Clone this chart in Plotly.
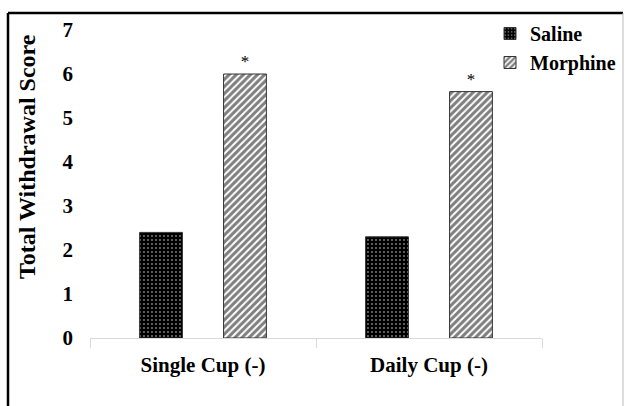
import plotly.graph_objects as go

categories = ["Single Cup (-)", "Daily Cup (-)"]
saline = [2.4, 2.3]
morphine = [6.0, 5.6]
significance = ["*", "*"]
y_ticks = [0, 1, 2, 3, 4, 5, 6, 7]

FONT = "Liberation Serif, Times New Roman, serif"

fig = go.Figure()

fig.add_trace(go.Bar(
    name="Saline",
    x=categories,
    y=saline,
    marker=dict(
        color="black",
        line=dict(color="#333333", width=1),
        pattern=dict(shape=".", bgcolor="black", fgcolor="white",
                     size=4, solidity=0.18),
    ),
))

fig.add_trace(go.Bar(
    name="Morphine",
    x=categories,
    y=morphine,
    text=significance,
    textposition="outside",
    textfont=dict(family=FONT, size=17, color="black"),
    cliponaxis=False,
    marker=dict(
        color="white",
        line=dict(color="#333333", width=1),
        pattern=dict(shape="/", bgcolor="white", fgcolor="black",
                     size=5, solidity=0.6),
    ),
))

# plot area in pixels
L, R, T, B = 90, 83, 30, 68
W, H = 625, 406
pw, ph = W - L - R, H - T - B

def px_x(x):
    return (x - L) / pw

def px_y(y):
    return (H - B - y) / ph

fig.update_layout(
    width=W,
    height=H,
    margin=dict(l=L, r=R, t=T, b=B, autoexpand=False),
    paper_bgcolor="white",
    plot_bgcolor="white",
    barmode="group",
    bargap=0.257,
    bargroupgap=0.49,
    font=dict(family=FONT, color="black"),
    showlegend=True,
    legend=dict(
        x=px_x(490), y=px_y(14), xanchor="left", yanchor="top",
        font=dict(family=FONT, size=20, color="black", weight="bold"),
        bgcolor="rgba(0,0,0,0)",
        itemwidth=30,
        tracegroupgap=0,
    ),
    xaxis=dict(
        showline=True,
        linecolor="#d9d9d9",
        linewidth=1,
        ticks="outside",
        tickson="boundaries",
        ticklen=9,
        tickcolor="#d9d9d9",
        showgrid=False,
        ticklabelstandoff=8,
        tickfont=dict(family=FONT, size=21, color="black", weight="bold"),
    ),
    yaxis=dict(
        range=[0, 7],
        tickvals=y_ticks,
        showline=False,
        showgrid=False,
        zeroline=False,
        ticks="",
        ticklabelstandoff=16,
        tickfont=dict(family=FONT, size=21, color="black", weight="bold"),
    ),
    annotations=[
        dict(
            text="Total Withdrawal Score",
            xref="paper", yref="paper",
            x=px_x(27), y=px_y(157),
            xanchor="center", yanchor="middle",
            textangle=-90,
            showarrow=False,
            font=dict(family=FONT, size=24, color="black", weight="bold"),
        )
    ],
    shapes=[
        # outer frame: heavy top and left edges, faint right edge
        dict(type="line", xref="paper", yref="paper",
             x0=px_x(8), x1=px_x(623), y0=px_y(13), y1=px_y(13),
             line=dict(color="black", width=2.5)),
        dict(type="line", xref="paper", yref="paper",
             x0=px_x(8), x1=px_x(8), y0=px_y(13), y1=px_y(412),
             line=dict(color="black", width=2.5)),
        dict(type="line", xref="paper", yref="paper",
             x0=px_x(623), x1=px_x(623), y0=px_y(13), y1=px_y(412),
             line=dict(color="#bbbbbb", width=1)),
    ],
)

fig.write_html("out.html")
